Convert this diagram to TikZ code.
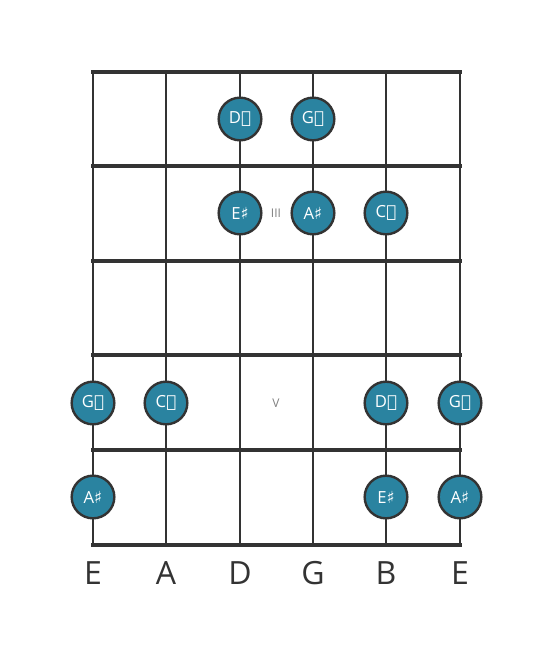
\documentclass[tikz,border=0pt]{standalone}
\usepackage{fontspec}
\setmainfont{Open Sans}
\newfontfamily\symfont{DejaVu Sans}
\usetikzlibrary{positioning}
\definecolor{notefill}{HTML}{2A83A0}
\definecolor{gridcol}{HTML}{333333}
\newcommand{\shp}{{\symfont ♯}}
\newcommand{\dshp}{{\symfont 𝄪}}

\begin{document}
\begin{tikzpicture}[x=0.75pt,y=-0.75pt]
\tikzstyle{note}=[circle,fill=notefill,draw=gridcol,line width=1.8pt,minimum size=32pt,inner sep=0pt,text=white,font=\fontsize{12.5}{14}\selectfont]
\tikzstyle{fretmark}=[text=gray,font=\fontsize{9}{10}\selectfont]
\tikzstyle{strname}=[text=gridcol,font=\fontsize{24}{28}\selectfont]
\useasboundingbox (0,0) rectangle (553,656);
% strings
\foreach \x in {93,166,240,313,386,460}
  \draw[gridcol,line width=2pt] (\x,72) -- (\x,545);
% frets
\foreach \y in {72,166,261,355,450,545}
  \draw[gridcol,line width=3.5pt,line cap=rect] (93,\y) -- (460,\y);
% fret markers
\node [fretmark] (m3) at (276,213) {III};
\node [fretmark] (m5) at (276,403) {V};
% notes
\node [note] (d1) at (240,119) {D\dshp};
\node [note] (g1) at (313,119) {G\dshp};
\node [note] (d2) at (240,213) {E\shp};
\node [note] (g2) at (313,213) {A\shp};
\node [note] (b2) at (386,213) {C\dshp};
\node [note] (e4) at (93,403) {G\dshp};
\node [note] (a4) at (166,403) {C\dshp};
\node [note] (b4) at (386,403) {D\dshp};
\node [note] (h4) at (460,403) {G\dshp};
\node [note] (e5) at (93,497) {A\shp};
\node [note] (b5) at (386,497) {E\shp};
\node [note] (h5) at (460,497) {A\shp};
% string names
\foreach \x/\n/\s in {93/E/e,166/A/a,240/D/d,313/G/g,386/B/b,460/E/h}
  \node [strname] (s\s) at (\x,573) {\n};
\end{tikzpicture}
\end{document}
